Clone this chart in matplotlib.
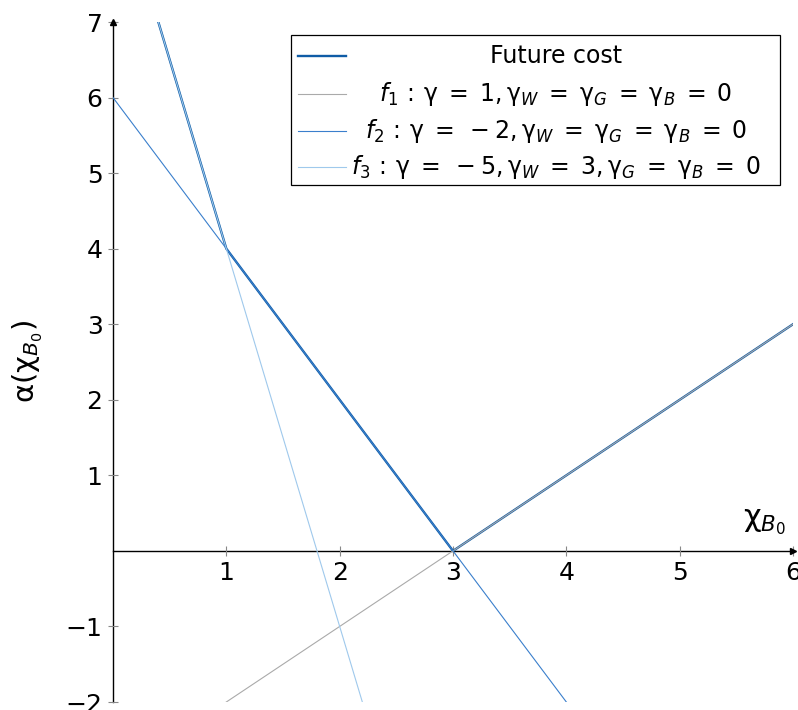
"""
Future cost as the upper envelope of three affine cuts.
"""
import numpy as np
import matplotlib
import matplotlib.pyplot as plt
from matplotlib.patches import Rectangle

matplotlib.use('Agg')

plt.rcParams['font.family'] = ['DejaVu Sans']
plt.rcParams['mathtext.fontset'] = 'dejavusans'

# cut f_i(x) = slope * x + intercept
cut_labels = [
    r'$f_1\,:\,\mathrm{\gamma}\;=\;1,\mathrm{\gamma}_W\;=\;\mathrm{\gamma}_G\;=\;\mathrm{\gamma}_B\;=\;0$',
    r'$f_2\,:\,\mathrm{\gamma}\;=\;-2,\mathrm{\gamma}_W\;=\;\mathrm{\gamma}_G\;=\;\mathrm{\gamma}_B\;=\;0$',
    r'$f_3\,:\,\mathrm{\gamma}\;=\;-5,\mathrm{\gamma}_W\;=\;3,\mathrm{\gamma}_G\;=\;\mathrm{\gamma}_B\;=\;0$',
]
cut_slopes = [1, -2, -5]
cut_intercepts = [-3, 6, 9]
cut_colors = ['#aaaaaa', '#3a7fcc', '#9fc9ec']

# breakpoints of the envelope max(f1, f2, f3)
future_x = [0.4, 1, 3, 6]
future_y = [7, 4, 0, 3]
future_color = '#0f5ca6'

x_ticks = [1, 2, 3, 4, 5, 6]
y_ticks = [-2, -1, 1, 2, 3, 4, 5, 6, 7]

W, H = 798, 710
fig = plt.figure(figsize=(W / 100, H / 100), dpi=100)
ax = fig.add_axes([113 / W, 8 / H, 680 / W, 680 / H])

ax.plot(future_x, future_y, color=future_color, lw=1.7, zorder=2)

x_range = np.array([0, 6])
for slope, icpt, col in zip(cut_slopes, cut_intercepts, cut_colors):
    ax.plot(x_range, slope * x_range + icpt, color=col, lw=0.8, zorder=3)

ax.set_xlim(0, 6)
ax.set_ylim(-2, 7)

# axes crossing at the origin
ax.spines['left'].set_position(('data', 0))
ax.spines['bottom'].set_position(('data', 0))
ax.spines['top'].set_visible(False)
ax.spines['right'].set_visible(False)
for s in ('left', 'bottom'):
    ax.spines[s].set_linewidth(1.0)
    ax.spines[s].set_zorder(1)

ax.plot(1, 0, '>k', ms=5, transform=ax.get_yaxis_transform(), clip_on=False)
ax.plot(0, 1, '^k', ms=5, transform=ax.get_xaxis_transform(), clip_on=False)

ax.set_xticks(x_ticks)
ax.set_yticks(y_ticks)
ax.set_xticklabels([f'{t}' for t in x_ticks])
ax.set_yticklabels([f'{t}'.replace('-', '\u2212') for t in y_ticks])
ax.tick_params(direction='inout', length=7, width=0.8, color='#888888',
               labelsize=18, pad=4)

ax.text(5.75, 0.18, r'$\mathrm{\chi}_{B_0}$', fontsize=22, ha='center', va='bottom')
fig.text(28 / W, 1 - 362 / H, r'$\mathrm{\alpha}(\mathrm{\chi}_{B_0})$', fontsize=21,
         rotation=90, ha='center', va='center')

# legend box drawn in figure pixels: handles on the left, labels centred
box_l, box_r, box_t, box_b = 291, 780, 35, 185
fig.add_artist(Rectangle((box_l / W, 1 - box_b / H), (box_r - box_l) / W,
                         (box_b - box_t) / H, transform=fig.transFigure,
                         facecolor='white', edgecolor='black', lw=0.9, zorder=5))
rows_y = [56, 94, 131, 167]
row_labels = ['Future cost'] + cut_labels
row_colors = [future_color] + cut_colors
row_widths = [1.7, 0.8, 0.8, 0.8]
for ry, lab, col, lw in zip(rows_y, row_labels, row_colors, row_widths):
    fy = 1 - ry / H
    fig.add_artist(plt.Line2D([298 / W, 346 / W], [fy, fy], color=col, lw=lw,
                              transform=fig.transFigure, zorder=6))
    fig.text(556 / W, fy, lab, fontsize=17, ha='center', va='center', zorder=6)

fig.savefig('out.png', dpi=100)
plt.close(fig)
